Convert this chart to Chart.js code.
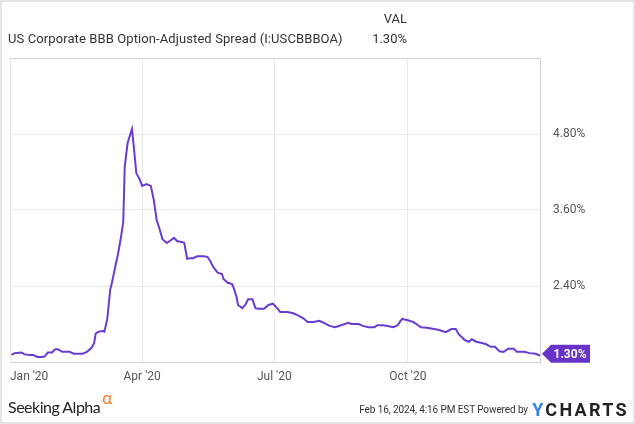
<!DOCTYPE html>
<html>
<head>
<meta charset="utf-8">
<script src="https://cdn.jsdelivr.net/npm/chart.js@4.4.1/dist/chart.umd.min.js"></script>
<style>
  html, body { margin:0; padding:0; background:#fff; }
  body { width:635px; height:424px; position:relative; overflow:hidden; font-family: Roboto, "Liberation Sans", sans-serif; }
  #wrap { position:absolute; left:0; top:0; width:635px; height:424px; }
  .frame { position:absolute; left:0; top:0; width:635px; height:424px; box-sizing:border-box; border:2px solid #e4e4e4; pointer-events:none; }
  .t { position:absolute; white-space:nowrap; color:#333; }
</style>
</head>
<body>
<div id="wrap"><canvas id="c" width="635" height="424"></canvas></div>
<div class="t" style="left:8px; top:31px; font-size:13px; letter-spacing:0.1px;">US Corporate BBB Option-Adjusted Spread (I:USCBBBOA)</div>
<div class="t" style="right:228px; top:11px; font-size:13px;">VAL</div>
<div class="t" style="right:228px; top:31px; font-size:13px;">1.30%</div>
<div class="t" style="left:8px; top:396px; font-family:Lato, 'Open Sans', sans-serif; font-size:16px; letter-spacing:-0.5px; color:#222;">Seeking Alpha<span style="color:#f47b20; font-size:17px; position:relative; top:-9px; margin-left:2px;">α</span></div>
<div class="t" style="right:107px; top:404px; font-size:10px; letter-spacing:-0.1px; color:#333;">Feb 16, 2024, 4:16 PM EST Powered by</div>
<div class="t" style="right:6px; top:399px; font-size:18px; font-weight:bold; letter-spacing:2.3px; color:#222;"><span style="color:#2f86e0;">Y</span>CHARTS</div>
<div class="frame"></div>
<script>
// Day offsets from Jan 1, 2020
const days = [1,3,8,10,14,16,19,22,24,26,29,31,33,36,39,41,44,47,50,53,56,58,59,61,64,65,67,69,70,73,74,76,78,79,81,84,85,87,89,91,94,97,99,101,103,105,108,110,113,115,119,120,122,124,126,129,133,136,138,140,143,146,147,150,153,154,156,157,160,162,164,167,169,171,175,178,181,184,186,191,195,198,202,205,209,213,216,220,224,228,233,235,240,243,247,251,253,257,260,264,267,269,270,274,278,281,283,287,290,295,300,304,307,309,313,316,318,321,325,328,331,334,337,340,343,347,349,354,358,362,365];
// Spread values (%)
const spread = [1.31,1.34,1.35,1.32,1.31,1.31,1.28,1.28,1.29,1.35,1.35,1.40,1.40,1.36,1.36,1.36,1.33,1.33,1.33,1.36,1.42,1.50,1.65,1.68,1.69,1.68,1.88,2.34,2.43,2.76,2.86,3.11,3.41,4.28,4.66,4.88,4.66,4.18,4.10,3.98,4.01,3.98,3.76,3.44,3.30,3.14,3.08,3.11,3.16,3.11,3.09,3.08,2.83,2.84,2.84,2.87,2.87,2.86,2.79,2.70,2.61,2.59,2.51,2.45,2.43,2.37,2.23,2.10,2.05,2.10,2.19,2.19,2.05,2.04,2.04,2.10,2.12,2.05,1.99,1.99,1.97,1.94,1.89,1.83,1.83,1.85,1.82,1.77,1.75,1.78,1.82,1.80,1.80,1.77,1.75,1.75,1.78,1.78,1.77,1.75,1.78,1.85,1.88,1.86,1.83,1.78,1.75,1.74,1.73,1.71,1.67,1.72,1.72,1.64,1.55,1.52,1.56,1.52,1.50,1.48,1.44,1.44,1.37,1.36,1.41,1.41,1.36,1.36,1.34,1.33,1.30];
const xTickDays = [0, 91, 182, 274, 365];
const xTickLabels = ["Jan '20", "Apr '20", "Jul '20", "Oct '20", ""];
const yTickValues = [1.2, 2.4, 3.6, 4.8, 6.0];
const yTickLabelsShown = ["", "2.40%", "3.60%", "4.80%", ""];
const lastLabel = "1.30%";

const LINE = '#6a3bd3';
const BADGE = '#6733c8';
const GRID = '#e8e8e8';
const BORDER = '#d0d0d0';

const badgePlugin = {
  id: 'badge',
  afterDatasetsDraw(chart) {
    const meta = chart.getDatasetMeta(0);
    const pt = meta.data[meta.data.length - 1];
    const ctx = chart.ctx;
    const x = chart.chartArea.right + 2, y = pt.y - 2;
    ctx.save();
    ctx.fillStyle = BADGE;
    ctx.beginPath();
    ctx.moveTo(x, y);
    ctx.lineTo(x + 9, y - 9);
    ctx.lineTo(x + 48, y - 9);
    ctx.lineTo(x + 48, y + 9);
    ctx.lineTo(x + 9, y + 9);
    ctx.closePath();
    ctx.fill();
    ctx.fillStyle = '#fff';
    ctx.font = 'bold 12px Roboto';
    ctx.textAlign = 'center';
    ctx.textBaseline = 'middle';
    ctx.fillText(lastLabel, x + 28, y + 1);
    ctx.restore();
  }
};

new Chart(document.getElementById('c'), {
  type: 'line',
  data: {
    datasets: [{
      data: days.map((d, i) => ({ x: d, y: spread[i] })),
      borderColor: LINE,
      borderWidth: 2,
      pointRadius: 0,
      tension: 0,
      fill: false
    }]
  },
  options: {
    responsive: false,
    animation: false,
    devicePixelRatio: 1,
    layout: { padding: { left: 10, top: 58, right: 0, bottom: 0 } },
    plugins: { legend: { display: false }, tooltip: { enabled: false } },
    scales: {
      x: {
        type: 'linear',
        min: 0, max: 365,
        afterBuildTicks(s) { s.ticks = xTickDays.map(v => ({ value: v })); },
        afterFit(s) { s.height = 62; },
        ticks: {
          autoSkip: false, maxRotation: 0, align: 'inner', padding: 8,
          color: '#555', font: { family: 'Roboto', size: 12 },
          callback(v, i) { return xTickLabels[i]; }
        },
        grid: { color: GRID, drawTicks: false },
        border: { color: BORDER }
      },
      y: {
        position: 'right',
        min: 1.2, max: 6.0,
        afterBuildTicks(s) { s.ticks = yTickValues.map(v => ({ value: v })); },
        afterFit(s) { s.width = 95; },
        ticks: {
          padding: 13, color: '#555', font: { family: 'Roboto', size: 12 },
          callback(v, i) { return yTickLabelsShown[i]; }
        },
        grid: { color: (c) => (c.index === 4 ? BORDER : GRID), drawTicks: false },
        border: { color: BORDER }
      }
    }
  },
  plugins: [badgePlugin]
});
</script>
</body>
</html>
